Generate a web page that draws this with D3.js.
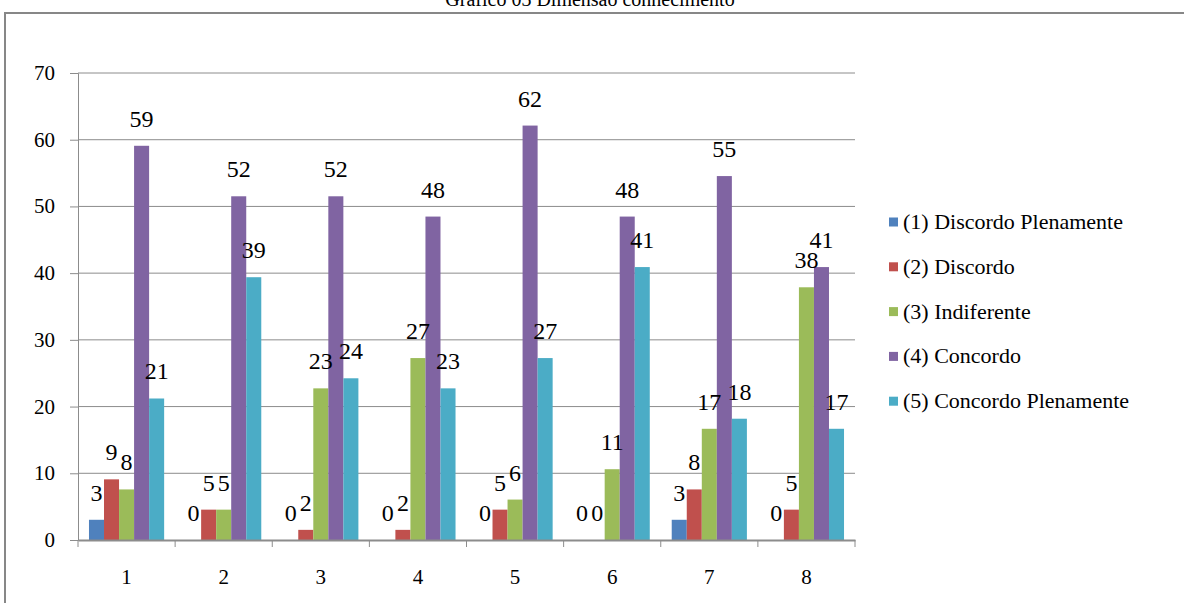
<!DOCTYPE html>
<html>
<head>
<meta charset="utf-8">
<script src="https://cdn.jsdelivr.net/npm/d3@7"></script>
</head>
<body style="margin:0; background:#fff">
<div id="chart"></div>
<script>
// categories (question numbers)
const categories = ["1", "2", "3", "4", "5", "6", "7", "8"];
const seriesNames = [
  "(1) Discordo Plenamente",
  "(2) Discordo",
  "(3) Indiferente",
  "(4) Concordo",
  "(5) Concordo Plenamente"
];
// percentages per series, one value per category
const discordoPlen = [3.03, 0, 0, 0, 0, 0, 3.03, 0];
const discordo     = [9.09, 4.55, 1.52, 1.52, 4.55, 0, 7.58, 4.55];
const indiferente  = [7.58, 4.55, 22.73, 27.27, 6.06, 10.61, 16.67, 37.88];
const concordo     = [59.09, 51.52, 51.52, 48.48, 62.12, 48.48, 54.55, 40.91];
const concordoPlen = [21.21, 39.39, 24.24, 22.73, 27.27, 40.91, 18.18, 16.67];
const yTicks = [0, 10, 20, 30, 40, 50, 60, 70];

const colors = ["#4F81BD", "#C0504D", "#9BBB59", "#8064A2", "#4BACC6"];
const seriesValues = [discordoPlen, discordo, indiferente, concordo, concordoPlen];

const serif = '"Liberation Serif", monospace';
const width = 1184, height = 603;
const plot = { left: 78, right: 855, top: 73, bottom: 540 };

const svg = d3.select("body").append("svg")
  .attr("width", width)
  .attr("height", height);

// helper: text placed straight on the svg root
function addText(x, yy, str, size, anchor) {
  return svg.append("text")
    .attr("x", x).attr("y", yy)
    .attr("text-anchor", anchor || "start")
    .attr("font-family", serif)
    .style("font-size", size + "px")
    .text(str);
}

// outer chart border
svg.append("rect")
  .attr("x", 5).attr("y", 13)
  .attr("width", width + 20).attr("height", height + 20)
  .attr("fill", "none")
  .attr("stroke", "#878787")
  .attr("stroke-width", 2);

// title (partly cut off at top, like the source)
addText(590, 6, "Gráfico 03 Dimensão conhecimento", 20, "middle");

const x0 = d3.scaleBand()
  .domain(categories)
  .range([plot.left, plot.right])
  .padding(0);

const x1 = d3.scaleBand()
  .domain(d3.range(seriesNames.length))
  .range([0, x0.bandwidth()])
  .paddingInner(0)
  .paddingOuter(0.73);

const y = d3.scaleLinear()
  .domain([0, 70])
  .range([plot.bottom, plot.top]);

// gridlines
svg.append("g")
  .selectAll("line")
  .data(yTicks.filter(d => d > 0))
  .join("line")
  .attr("x1", plot.left).attr("x2", plot.right)
  .attr("y1", d => y(d)).attr("y2", d => y(d))
  .attr("stroke", "#8c8c8c")
  .attr("stroke-width", 1);

// y axis (lines from d3, labels drawn at root)
const yAxis = svg.append("g")
  .attr("transform", `translate(${plot.left},0)`)
  .call(d3.axisLeft(y).tickValues(yTicks).tickSize(8).tickFormat(""));
yAxis.select(".domain").attr("stroke", "#8c8c8c");
yAxis.selectAll(".tick line").attr("stroke", "#8c8c8c");
yTicks.forEach(t => addText(plot.left - 23, y(t) + 7, t, 21, "end"));

// bars
seriesValues.forEach((vals, s) => {
  svg.append("g")
    .selectAll("rect")
    .data(vals)
    .join("rect")
    .attr("x", (v, i) => x0(categories[i]) + x1(s))
    .attr("width", x1.bandwidth())
    .attr("y", v => y(v))
    .attr("height", v => y(0) - y(v))
    .attr("fill", colors[s]);
});

// x axis
const xAxis = svg.append("g")
  .attr("transform", `translate(0,${plot.bottom})`)
  .call(d3.axisBottom(x0).tickSize(0).tickFormat(""));
xAxis.select(".domain").attr("stroke", "#8c8c8c").attr("stroke-width", 2);
categories.forEach(c => addText(x0(c) + x0.bandwidth() / 2, plot.bottom + 44, c, 21, "middle"));

// boundary ticks between categories
svg.append("g")
  .selectAll("line")
  .data(d3.range(categories.length + 1))
  .join("line")
  .attr("x1", i => plot.left + i * x0.step())
  .attr("x2", i => plot.left + i * x0.step())
  .attr("y1", plot.bottom)
  .attr("y2", plot.bottom + 7)
  .attr("stroke", "#8c8c8c");

// data labels
seriesValues.forEach((vals, s) => {
  vals.forEach((v, i) => {
    addText(x0(categories[i]) + x1(s) + x1.bandwidth() / 2, y(v) - 19, Math.round(v), 24, "middle");
  });
});

// legend
seriesNames.forEach((name, i) => {
  const ly = 222 + i * 44.8;
  svg.append("rect")
    .attr("x", 889).attr("y", ly - 4.5)
    .attr("width", 9).attr("height", 9)
    .attr("fill", colors[i]);
  addText(903, ly + 7, name, 22, "start");
});
</script>
</body>
</html>
